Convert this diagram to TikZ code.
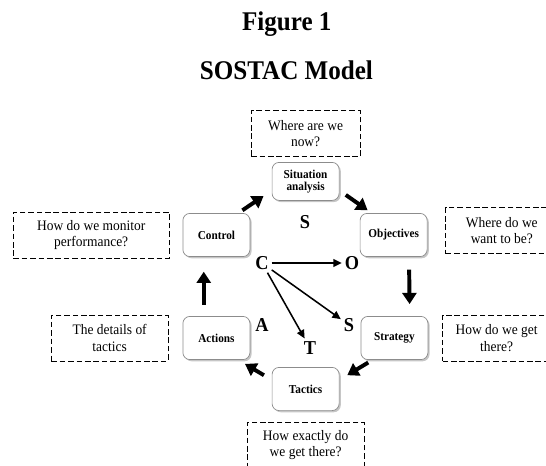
\documentclass[tikz,border=0pt]{standalone}
\usepackage{fontspec}
\setmainfont{Liberation Serif}[FakeStretch=0.93]
\usetikzlibrary{positioning, arrows.meta, shadows}

\begin{document}
\begin{tikzpicture}[
  stage/.style={draw=black!45, fill=white, rounded corners=5pt, line width=.5pt,
                minimum width=1.675cm, minimum height=1.08cm, align=center,
                font=\fontsize{8.6}{8.8}\selectfont\bfseries, inner sep=2pt,
                drop shadow={shadow xshift=1.2pt, shadow yshift=-1.2pt, opacity=.45}},
  quest/.style={draw, dash pattern=on 4pt off 2pt, line width=.5pt,
                minimum height=1.15cm, align=center, inner sep=2pt,
                font=\fontsize{10.3}{11.5}\selectfont},
  letter/.style={font=\fontsize{14}{14}\selectfont\bfseries, inner sep=2pt},
  cyc/.style={line width=2.8pt, -{Triangle[length=8pt,width=10pt]}},
  link/.style={line width=1.1pt, -{Triangle[length=6pt,width=5.5pt]}},
]
\clip (0,0) rectangle (13.65,11.625);

\node[font=\fontsize{19.2}{20}\selectfont\bfseries, anchor=base] (fig) at (7.17,10.85) {Figure 1};
\node[font=\fontsize{19.2}{20}\selectfont\bfseries, anchor=base] (ttl) at (7.16,9.625) {SOSTAC Model};

\node[stage, minimum height=.95cm] (sa) at (7.64,7.09) {Situation\\analysis};
\node[stage] (ob) at (9.84,5.75) {Objectives};
\node[stage] (st) at (9.86,3.175) {Strategy};
\node[stage] (ta) at (7.64,1.9) {Tactics};
\node[stage] (ac) at (5.41,3.175) {Actions};
\node[stage] (co) at (5.41,5.75) {Control};

\node[quest, minimum width=2.725cm, above=.125cm of sa] (q1) {Where are we\\now?};
\node[quest, minimum width=2.8cm, right=.45cm of ob, yshift=.11cm] (q2) {Where do we\\want to be?};
\node[quest, minimum width=2.7cm, right=.35cm of st] (q3) {How do we get\\there?};
\node[quest, minimum width=2.925cm, below=.275cm of ta] (q4) {How exactly do\\we get there?};
\node[quest, minimum width=2.925cm, left=.35cm of ac] (q5) {The details of\\tactics};
\node[quest, minimum width=3.9cm, left=.325cm of co] (q6) {How do we monitor\\performance?};

\node[letter] (lS) at (7.625,6.075) {S};
\node[letter] (lC) at (6.55,5.05) {C};
\node[letter] (lO) at (8.8,5.05) {O};
\node[letter] (lS2) at (8.725,3.5) {S};
\node[letter] (lT) at (7.75,2.925) {T};
\node[letter] (lA) at (6.55,3.5) {A};

\draw[cyc, shorten <=3.5pt, shorten >=7pt] (co.45) -- (sa.195);
\draw[cyc, shorten <=5.5pt, shorten >=3.5pt] (sa.345) -- (ob.135);
\draw[cyc, shorten <=9pt, shorten >=8.5pt] (ob.-55) -- (st.55);
\draw[cyc, shorten <=3.5pt, shorten >=6.5pt] (st.225) -- (ta.15);
\draw[cyc, shorten <=6.5pt, shorten >=5.5pt] (ta.165) -- (ac.-45);
\draw[cyc, shorten <=8pt, shorten >=10.5pt] (ac.120) -- (co.-120);

\draw[link] (lC) -- (lO);
\draw[link] (lC) -- (lS2);
\draw[link] (lC) -- (lT);
\end{tikzpicture}
\end{document}
